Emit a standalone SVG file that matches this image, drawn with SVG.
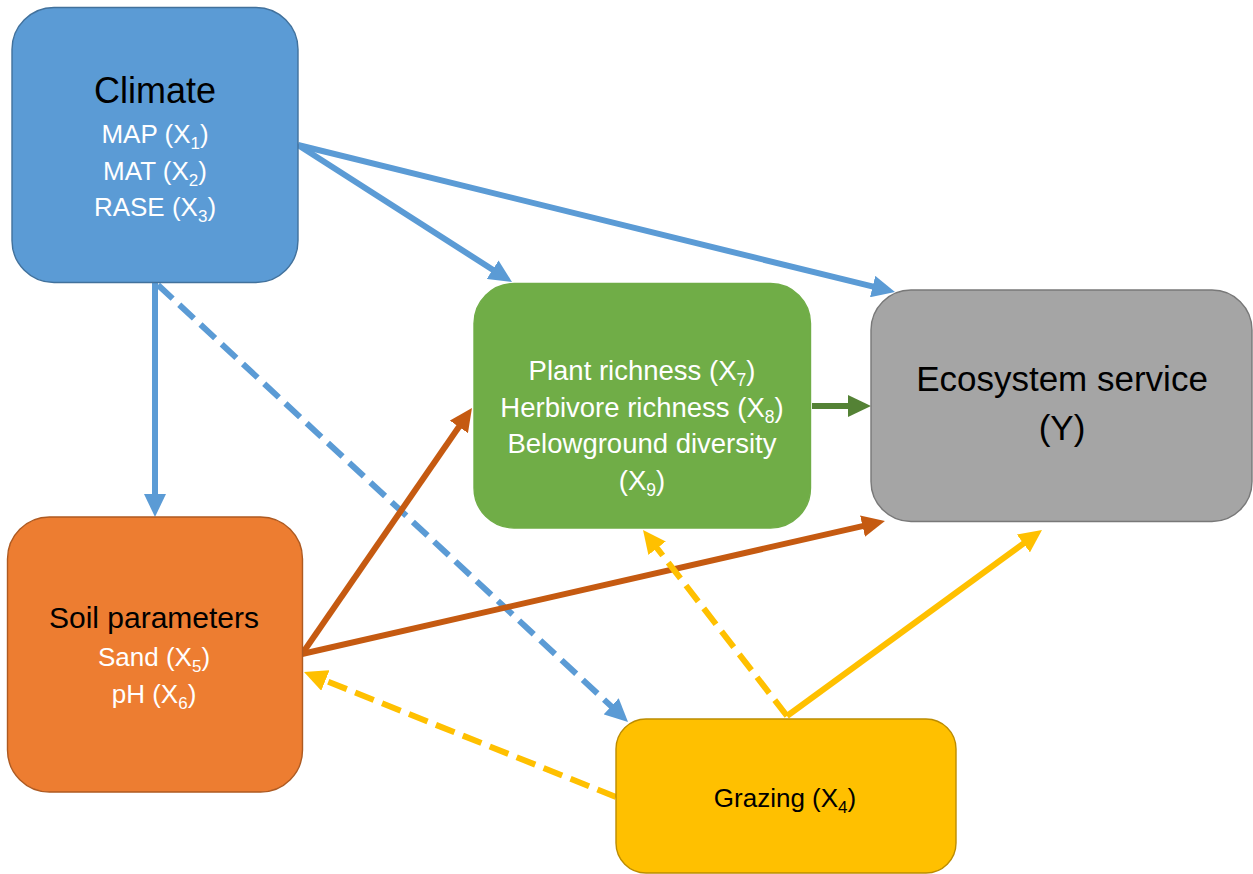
<svg xmlns="http://www.w3.org/2000/svg" width="1253" height="874" viewBox="0 0 1253 874">
  <style>
    text { font-family: "Liberation Sans", Arial, sans-serif; text-anchor: middle; }
    .title { fill: #000000; }
    .light { fill: #FFFFFF; }
    .dark { fill: #000000; }
    .box { stroke-width: 1.4; }
    .conn { fill: none; stroke-width: 6; stroke-linecap: butt; }
    .dash { stroke-dasharray: 20 9; }
    .blue { stroke: #5B9BD5; }
    .orange { stroke: #C55A11; }
    .green { stroke: #548235; }
    .yellow { stroke: #FFC000; }
  </style>
  <defs>
    <marker id="arr-blue" markerUnits="userSpaceOnUse" markerWidth="23" markerHeight="22" refX="9" refY="11" orient="auto" viewBox="0 0 23 22">
      <path d="M0,0 L23,11 L0,22 Z" fill="#5B9BD5"/>
    </marker>
    <marker id="arr-orange" markerUnits="userSpaceOnUse" markerWidth="23" markerHeight="22" refX="9" refY="11" orient="auto" viewBox="0 0 23 22">
      <path d="M0,0 L23,11 L0,22 Z" fill="#C55A11"/>
    </marker>
    <marker id="arr-green" markerUnits="userSpaceOnUse" markerWidth="23" markerHeight="22" refX="9" refY="11" orient="auto" viewBox="0 0 23 22">
      <path d="M0,0 L23,11 L0,22 Z" fill="#548235"/>
    </marker>
    <marker id="arr-yellow" markerUnits="userSpaceOnUse" markerWidth="23" markerHeight="22" refX="9" refY="11" orient="auto" viewBox="0 0 23 22">
      <path d="M0,0 L23,11 L0,22 Z" fill="#FFC000"/>
    </marker>
  </defs>

  <rect width="1253" height="874" fill="#FFFFFF"/>

  <!-- connectors -->
  <g id="connectors">
    <line class="conn blue" x1="155" y1="283" x2="155" y2="503" marker-end="url(#arr-blue)"/>
    <line class="conn blue" x1="298" y1="145" x2="500.2" y2="274.5" marker-end="url(#arr-blue)"/>
    <line class="conn blue" x1="298" y1="145" x2="881.4" y2="288.7" marker-end="url(#arr-blue)"/>
    <line class="conn blue dash" x1="158" y1="285" x2="617.8" y2="712.4" marker-end="url(#arr-blue)"/>
    <line class="conn orange" x1="302" y1="654" x2="464" y2="419.5" marker-end="url(#arr-orange)"/>
    <line class="conn orange" x1="302" y1="654" x2="871.3" y2="524.1" marker-end="url(#arr-orange)"/>
    <line class="conn green" x1="812" y1="406" x2="857" y2="406" marker-end="url(#arr-green)"/>
    <line class="conn yellow dash" x1="616" y1="797" x2="317" y2="677.2" marker-end="url(#arr-yellow)"/>
    <line class="conn yellow dash" x1="787" y1="716" x2="651.6" y2="541.1" marker-end="url(#arr-yellow)"/>
    <line class="conn yellow" x1="787" y1="716" x2="1030.7" y2="538.2" marker-end="url(#arr-yellow)"/>
  </g>

  <!-- Climate -->
  <g id="climate">
    <rect class="box" x="12" y="7.5" width="286" height="275" rx="42" fill="#5B9BD5" stroke="#41719C"/>
    <text class="title" x="155" y="103" font-size="36">Climate</text>
    <text class="light" x="155" y="143" font-size="26">MAP (X<tspan font-size="17" dy="6">1</tspan><tspan dy="-6">)</tspan></text>
    <text class="light" x="155" y="180" font-size="26">MAT (X<tspan font-size="17" dy="6">2</tspan><tspan dy="-6">)</tspan></text>
    <text class="light" x="155" y="216" font-size="26">RASE (X<tspan font-size="17" dy="6">3</tspan><tspan dy="-6">)</tspan></text>
  </g>

  <!-- Biodiversity -->
  <g id="biodiversity">
    <rect class="box" x="474" y="283.5" width="336.5" height="244.5" rx="40" fill="#70AD47" stroke="#70AD47"/>
    <text class="light" x="642" y="380" font-size="27.5">Plant richness (X<tspan font-size="17.5" dy="6">7</tspan><tspan dy="-6">)</tspan></text>
    <text class="light" x="642" y="416.5" font-size="27.5">Herbivore richness (X<tspan font-size="17.5" dy="6">8</tspan><tspan dy="-6">)</tspan></text>
    <text class="light" x="642" y="453" font-size="27.5">Belowground diversity</text>
    <text class="light" x="642" y="489.5" font-size="27.5">(X<tspan font-size="17.5" dy="6">9</tspan><tspan dy="-6">)</tspan></text>
  </g>

  <!-- Ecosystem service -->
  <g id="ecosystem-service">
    <rect class="box" x="871" y="290" width="381" height="231.5" rx="40" fill="#A5A5A5" stroke="#787878"/>
    <text class="dark" x="1062" y="391" font-size="35">Ecosystem service</text>
    <text class="dark" x="1062" y="440" font-size="35">(Y)</text>
  </g>

  <!-- Soil parameters -->
  <g id="soil">
    <rect class="box" x="7.5" y="517" width="295" height="275" rx="42" fill="#ED7D31" stroke="#AE5A21"/>
    <text class="dark" x="154" y="628" font-size="30">Soil parameters</text>
    <text class="light" x="154" y="666" font-size="26">Sand (X<tspan font-size="17" dy="6">5</tspan><tspan dy="-6">)</tspan></text>
    <text class="light" x="154" y="703" font-size="26">pH (X<tspan font-size="17" dy="6">6</tspan><tspan dy="-6">)</tspan></text>
  </g>

  <!-- Grazing -->
  <g id="grazing">
    <rect class="box" x="616" y="719" width="340" height="154" rx="30" fill="#FFC000" stroke="#BC8C00"/>
    <text class="dark" x="785" y="807" font-size="26">Grazing (X<tspan font-size="17" dy="6">4</tspan><tspan dy="-6">)</tspan></text>
  </g>
</svg>
